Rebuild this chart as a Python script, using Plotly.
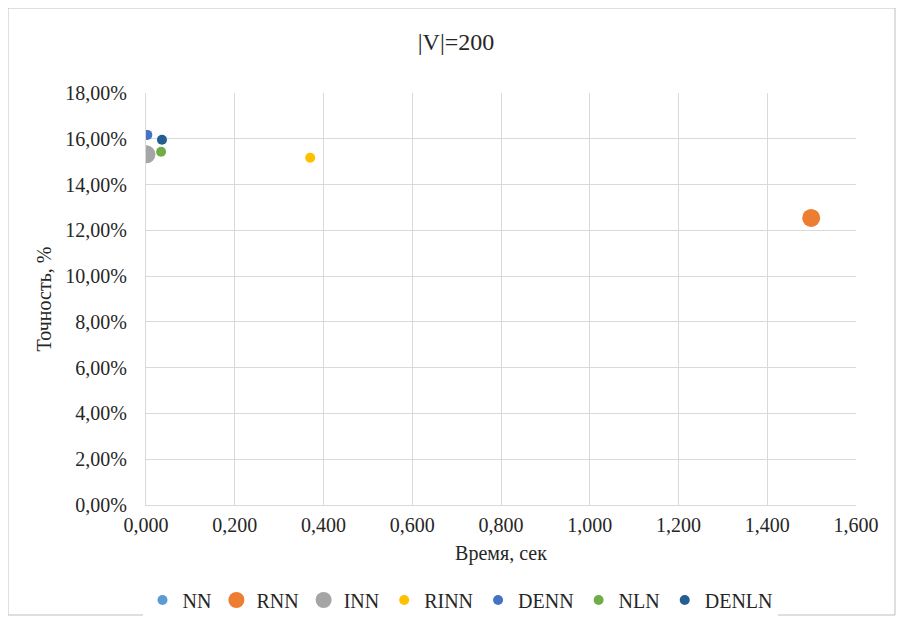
import plotly.graph_objects as go

names = ["NN", "RNN", "INN", "RINN", "DENN", "NLN", "DENLN"]
time_sec = [0.001, 1.499, 0.001, 0.370, 0.003, 0.034, 0.036]
accuracy = [0.1530, 0.1254, 0.1532, 0.1517, 0.1617, 0.1543, 0.1596]
colors = ["#5B9BD5", "#ED7D31", "#A5A5A5", "#FFC000", "#4472C4", "#70AD47", "#255E91"]
sizes = [10, 18, 18, 10, 10, 10, 10]

x_ticks = [0, 0.2, 0.4, 0.6, 0.8, 1.0, 1.2, 1.4, 1.6]
y_ticks = [0, 0.02, 0.04, 0.06, 0.08, 0.10, 0.12, 0.14, 0.16, 0.18]

fig = go.Figure()
for n, x, y, c, s in zip(names, time_sec, accuracy, colors, sizes):
    fig.add_trace(go.Scatter(x=[x], y=[y], mode="markers", name=n,
                             marker=dict(color=c, size=s, line=dict(width=0))))

font = "Liberation Serif"
TXT = "#262626"
W, H = 904, 625
L, T = 138, 85
pw, ph = 710, 412
R, B = W - L - pw, H - T - ph
base = T + ph  # figure y of plot bottom

tf = dict(family=font, size=20, color=TXT)

fig.update_layout(
    width=W, height=H,
    margin=dict(l=L, r=R, t=T, b=B),
    paper_bgcolor="white", plot_bgcolor="white",
    font=tf,
    separators=", ",
    title=dict(text="|V|=200", x=(456 - 8 - L) / pw, xref="paper", xanchor="center",
               y=1 - 34 / H, yanchor="middle",
               font=dict(family=font, size=24, color=TXT)),
    xaxis=dict(range=[0, 1.6], tickvals=x_ticks, tickformat=".3f", showgrid=True, gridcolor="#D9D9D9",
               gridwidth=1, zeroline=False, showline=True, linecolor="#D9D9D9", ticks="",
               tickfont=tf, ticklabelstandoff=2,
               title=dict(text="Время, сек", font=tf, standoff=10)),
    yaxis=dict(range=[0, 0.18], tickvals=y_ticks, tickformat=".2%", showgrid=True, gridcolor="#D9D9D9",
               gridwidth=1, zeroline=False, showline=True, linecolor="#D9D9D9", ticks="",
               tickfont=tf, ticklabelstandoff=14,
               title=dict(text="Точность, %", font=tf, standoff=8)),
    legend=dict(orientation="h", x=(460 - 8 - L) / pw, xanchor="center", y=(base - 592) / ph, yanchor="middle",
                font=dict(family=font, size=20, color=TXT), itemsizing="trace",
                itemwidth=30, tracegroupgap=0),
    showlegend=True,
    shapes=[dict(type="rect", xref="paper", yref="paper",
                 x0=(0 - L) / pw, x1=(887 - L) / pw,
                 y0=(base - 607) / ph, y1=(base - 0) / ph,
                 line=dict(color="#BFBFBF", width=1), fillcolor="rgba(0,0,0,0)", layer="below")],
)

fig.write_html("out.html")
